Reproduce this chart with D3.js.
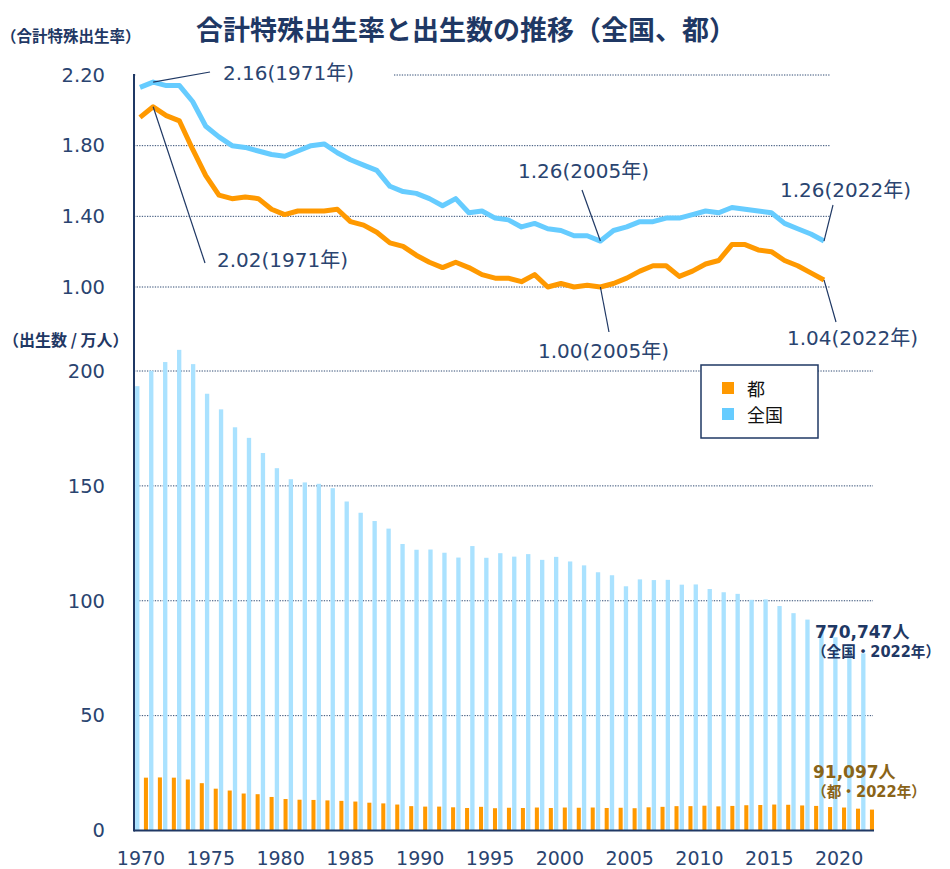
<!DOCTYPE html>
<html>
<head>
<meta charset="utf-8">
<script src="https://cdnjs.cloudflare.com/ajax/libs/d3/7.8.5/d3.min.js"></script>
<style>
body { margin: 0; background: #fff; }
svg { display: block; }
</style>
</head>
<body>
<script>
//chart frame dimensions
var width = 950,
    height = 869;

//years on the category axis
var years = [1970, 1971, 1972, 1973, 1974, 1975, 1976, 1977, 1978, 1979,
    1980, 1981, 1982, 1983, 1984, 1985, 1986, 1987, 1988, 1989,
    1990, 1991, 1992, 1993, 1994, 1995, 1996, 1997, 1998, 1999,
    2000, 2001, 2002, 2003, 2004, 2005, 2006, 2007, 2008, 2009,
    2010, 2011, 2012, 2013, 2014, 2015, 2016, 2017, 2018, 2019,
    2020, 2021, 2022];

//total fertility rate (全国 / 都)
var tfrZenkoku = [2.13, 2.16, 2.14, 2.14, 2.05, 1.91, 1.85, 1.80, 1.79, 1.77,
    1.75, 1.74, 1.77, 1.80, 1.81, 1.76, 1.72, 1.69, 1.66, 1.57,
    1.54, 1.53, 1.50, 1.46, 1.50, 1.42, 1.43, 1.39, 1.38, 1.34,
    1.36, 1.33, 1.32, 1.29, 1.29, 1.26, 1.32, 1.34, 1.37, 1.37,
    1.39, 1.39, 1.41, 1.43, 1.42, 1.45, 1.44, 1.43, 1.42, 1.36,
    1.33, 1.30, 1.26];
var tfrTo = [1.96, 2.02, 1.97, 1.94, 1.78, 1.63, 1.52, 1.50, 1.51, 1.50,
    1.44, 1.41, 1.43, 1.43, 1.43, 1.44, 1.37, 1.35, 1.31, 1.25,
    1.23, 1.18, 1.14, 1.11, 1.14, 1.11, 1.07, 1.05, 1.05, 1.03,
    1.07, 1.00, 1.02, 1.00, 1.01, 1.00, 1.02, 1.05, 1.09, 1.12,
    1.12, 1.06, 1.09, 1.13, 1.15, 1.24, 1.24, 1.21, 1.20, 1.15,
    1.12, 1.08, 1.04];

//births (万人)
var birthsZenkoku = [193.4, 200.1, 203.9, 209.2, 203.0, 190.1, 183.3, 175.5, 170.9, 164.3,
    157.7, 152.9, 151.5, 150.9, 149.0, 143.2, 138.3, 134.7, 131.4, 124.7,
    122.2, 122.3, 120.9, 118.8, 123.8, 118.7, 120.7, 119.2, 120.3, 117.8,
    119.1, 117.1, 115.4, 112.4, 111.1, 106.3, 109.3, 109.0, 109.1, 107.0,
    107.1, 105.1, 103.7, 103.0, 100.4, 100.6, 97.7, 94.6, 91.8, 86.5,
    84.1, 81.2, 77.1];
var birthsTo = [23.0, 23.1, 23.0, 22.2, 20.6, 18.2, 17.4, 16.1, 15.8, 14.6,
    13.7, 13.4, 13.3, 13.1, 12.9, 12.6, 12.1, 11.8, 11.3, 10.6,
    10.4, 10.4, 10.1, 9.8, 10.3, 9.7, 9.9, 9.8, 10.0, 9.8,
    10.0, 9.9, 10.0, 9.8, 9.9, 9.7, 10.1, 10.3, 10.6, 10.6,
    10.8, 10.5, 10.7, 11.0, 11.1, 11.3, 11.2, 10.9, 10.7, 10.2,
    10.0, 9.5, 9.1];

//tick labels
var rateTicks = [1.00, 1.40, 1.80, 2.20];
var birthTicks = [0, 50, 100, 150, 200];
var yearTicks = [1970, 1975, 1980, 1985, 1990, 1995, 2000, 2005, 2010, 2015, 2020];

//legend entries
var seriesNames = ["都", "全国"];

//callouts on the rate lines
var rateNotes = [
    { series: "全国", year: 1971, label: "2.16(1971年)" },
    { series: "都", year: 1971, label: "2.02(1971年)" },
    { series: "全国", year: 2005, label: "1.26(2005年)" },
    { series: "全国", year: 2022, label: "1.26(2022年)" },
    { series: "都", year: 2005, label: "1.00(2005年)" },
    { series: "都", year: 2022, label: "1.04(2022年)" }
];

//callouts on the bars
var birthNotes = [
    { series: "全国", label: "770,747人", sub: "（全国・2022年）" },
    { series: "都", label: "91,097人", sub: "（都・2022年）" }
];

window.onload = drawChart();

function drawChart() {

    var navy = "#1f3864",
        tickColor = "#2a4470",
        gridColor = "#2f4a72";

    var lineColor = { "全国": "#66ccff", "都": "#ff9900" },
        barColor = { "全国": "#aae2ff", "都": "#ff9900" },
        rates = { "全国": tfrZenkoku, "都": tfrTo };

    var svg = d3.select("body")
        .append("svg")
        .attr("width", width)
        .attr("height", height)
        .style("font-family", "'DejaVu Sans', 'Noto Sans CJK JP', sans-serif");

    //top panel: rate lines
    var xRate = d3.scaleLinear().domain([1970, 2022]).range([140, 824]);
    var yRate = d3.scaleLinear().domain([1.00, 2.20]).range([287, 75]);

    //bottom panel: births bars
    var xBirth = d3.scaleBand().domain(years).range([134, 874]);
    var yBirth = d3.scaleLinear().domain([0, 200]).range([830.5, 371]);
    var bw = xBirth.bandwidth();

    //title
    svg.append("text")
        .attr("x", 196)
        .attr("y", 28)
        .attr("dominant-baseline", "central")
        .style("font-family", "'Noto Sans CJK JP', sans-serif")
        .style("font-size", "27px")
        .style("font-weight", "bold")
        .style("fill", navy)
        .text("合計特殊出生率と出生数の推移（全国、都）");

    //axis titles
    svg.append("text")
        .attr("x", 1)
        .attr("y", 35)
        .attr("dominant-baseline", "central")
        .style("font-family", "'Noto Sans CJK JP', sans-serif")
        .style("font-size", "15.5px")
        .style("font-weight", "bold")
        .style("fill", navy)
        .text("（合計特殊出生率）");

    svg.append("text")
        .attr("x", 3)
        .attr("y", 339)
        .attr("dominant-baseline", "central")
        .style("font-family", "'Noto Sans CJK JP', sans-serif")
        .style("font-size", "16px")
        .style("font-weight", "bold")
        .style("fill", navy)
        .text("（出生数 / 万人）");

    //gridlines
    svg.selectAll(".rateGrid")
        .data(rateTicks)
        .enter()
        .append("line")
        .attr("class", "rateGrid")
        .attr("x1", 134)
        .attr("x2", 830)
        .attr("y1", function(d) { return yRate(d); })
        .attr("y2", function(d) { return yRate(d); })
        .style("stroke", gridColor)
        .style("stroke-width", 1)
        .style("stroke-dasharray", "1.3,1.3");

    svg.selectAll(".birthGrid")
        .data(birthTicks.slice(1))
        .enter()
        .append("line")
        .attr("class", "birthGrid")
        .attr("x1", 134)
        .attr("x2", 873)
        .attr("y1", function(d) { return yBirth(d); })
        .attr("y2", function(d) { return yBirth(d); })
        .style("stroke", gridColor)
        .style("stroke-width", 1)
        .style("stroke-dasharray", "1.3,1.3");

    //white box behind the first callout hides the top gridline
    svg.append("rect")
        .attr("x", 136)
        .attr("y", 64)
        .attr("width", 258)
        .attr("height", 18)
        .style("fill", "#fff");

    //bars: 全国 left in the band, 都 right
    svg.selectAll(".barZenkoku")
        .data(years)
        .enter()
        .append("rect")
        .attr("class", "barZenkoku")
        .attr("x", function(d) { return xBirth(d) + bw * 0.08; })
        .attr("width", bw * 0.31)
        .attr("y", function(d, i) { return yBirth(birthsZenkoku[i]); })
        .attr("height", function(d, i) { return yBirth(0) - yBirth(birthsZenkoku[i]); })
        .style("fill", barColor["全国"]);

    svg.selectAll(".barTo")
        .data(years)
        .enter()
        .append("rect")
        .attr("class", "barTo")
        .attr("x", function(d) { return xBirth(d) + bw * 0.71; })
        .attr("width", bw * 0.29)
        .attr("y", function(d, i) { return yBirth(birthsTo[i]); })
        .attr("height", function(d, i) { return yBirth(0) - yBirth(birthsTo[i]); })
        .style("fill", barColor["都"]);

    //rate lines
    seriesNames.slice().reverse().forEach(function(name) {
        var line = d3.line()
            .x(function(d) { return xRate(d); })
            .y(function(d, i) { return yRate(rates[name][i]); });

        svg.append("path")
            .datum(years)
            .attr("d", line)
            .style("fill", "none")
            .style("stroke", lineColor[name])
            .style("stroke-width", 5)
            .style("stroke-linejoin", "round");
    });

    //callout layout: leader end and label position
    var noteLayout = [
        { lx: 210, ly: 72, tx: 223, ty: 73 },
        { lx: 205, ly: 263, tx: 217, ty: 260 },
        { lx: 582, ly: 190, tx: 518, ty: 171 },
        { lx: 833, ly: 205, tx: 780, ty: 190 },
        { lx: 609, ly: 332, tx: 538, ty: 351 },
        { lx: 836, ly: 322, tx: 787, ty: 338 }
    ];

    rateNotes.forEach(function(n, k) {
        var i = years.indexOf(n.year),
            px = xRate(n.year),
            py = yRate(rates[n.series][i]),
            pos = noteLayout[k];

        svg.append("line")
            .attr("x1", px)
            .attr("y1", py)
            .attr("x2", pos.lx)
            .attr("y2", pos.ly)
            .style("stroke", navy)
            .style("stroke-width", 1.2);

        svg.append("text")
            .attr("x", pos.tx)
            .attr("y", pos.ty)
            .attr("dy", "0.36em")
            .style("font-size", "20px")
            .style("fill", tickColor)
            .text(n.label);
    });

    //bar callouts
    var birthLayout = [
        { x: 815, y: 632, sx: 812, sy: 652, len: 128, color: navy },
        { x: 813, y: 772, sx: 812, sy: 792, len: 114, color: "#8a6418" }
    ];

    birthNotes.forEach(function(n, k) {
        var pos = birthLayout[k];
        svg.append("text")
            .attr("x", pos.x)
            .attr("y", pos.y)
            .attr("dy", "0.36em")
            .style("font-size", "17px")
            .style("font-weight", "bold")
            .style("fill", pos.color)
            .text(n.label);
        svg.append("text")
            .attr("x", pos.sx)
            .attr("y", pos.sy)
            .attr("dy", "0.36em")
            .attr("textLength", pos.len)
            .attr("lengthAdjust", "spacingAndGlyphs")
            .style("font-size", "15px")
            .style("font-weight", "bold")
            .style("fill", pos.color)
            .text(n.sub);
    });

    //legend
    var legend = svg.append("g").attr("transform", "translate(701,365)");

    legend.append("rect")
        .attr("width", 117)
        .attr("height", 73)
        .style("fill", "#fff")
        .style("stroke", navy)
        .style("stroke-width", 1.5);

    legend.selectAll(".key")
        .data(seriesNames)
        .enter()
        .append("rect")
        .attr("class", "key")
        .attr("x", 21)
        .attr("y", function(d, i) { return 17 + i * 26; })
        .attr("width", 12)
        .attr("height", 12)
        .style("fill", function(d) { return lineColor[d]; });

    legend.selectAll(".keyText")
        .data(seriesNames)
        .enter()
        .append("text")
        .attr("class", "keyText")
        .attr("x", 46)
        .attr("y", function(d, i) { return 23 + i * 26; })
        .attr("dominant-baseline", "central")
        .style("font-family", "'Noto Sans CJK JP', sans-serif")
        .style("font-size", "18px")
        .style("fill", "#111")
        .text(function(d) { return d; });

    //axes: tick labels only
    var rateAxis = svg.append("g")
        .attr("transform", "translate(134,0)")
        .call(d3.axisLeft(yRate)
            .tickValues(rateTicks)
            .tickFormat(d3.format(".2f"))
            .tickSize(0)
            .tickPadding(29));

    var birthAxis = svg.append("g")
        .attr("transform", "translate(134,0)")
        .call(d3.axisLeft(yBirth)
            .tickValues(birthTicks)
            .tickSize(0)
            .tickPadding(29));

    var yearAxis = svg.append("g")
        .attr("transform", "translate(0,830.5)")
        .call(d3.axisBottom(xBirth)
            .tickValues(yearTicks)
            .tickSize(0)
            .tickPadding(21));

    [rateAxis, birthAxis, yearAxis].forEach(function(g) {
        g.select(".domain").remove();
        g.selectAll("text")
            .style("font-family", "'DejaVu Sans', sans-serif")
            .style("font-size", "19.5px")
            .style("fill", tickColor);
    });
    yearAxis.selectAll("text").style("font-size", "19px");

    //axis lines
    svg.append("line")
        .attr("x1", 134)
        .attr("x2", 134)
        .attr("y1", yRate(2.20) - 1)
        .attr("y2", yBirth(0) + 1)
        .style("stroke", navy)
        .style("stroke-width", 2);

    svg.append("line")
        .attr("x1", 134)
        .attr("x2", 874)
        .attr("y1", yBirth(0))
        .attr("y2", yBirth(0))
        .style("stroke", navy)
        .style("stroke-width", 2);
}
</script>
</body>
</html>
